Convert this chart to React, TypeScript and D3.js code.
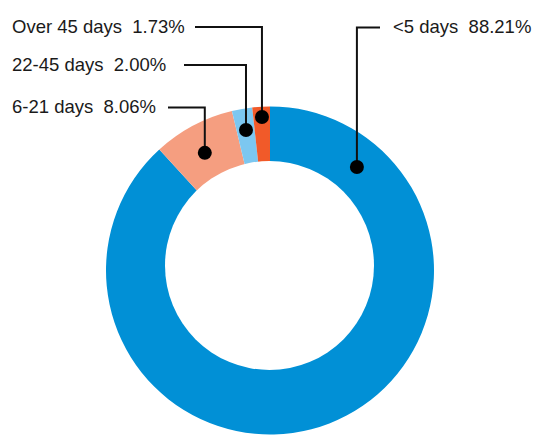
import React from 'react';
import * as d3 from 'd3';

// Distribution of items by age bucket
const categories = ['<5 days', '6-21 days', '22-45 days', 'Over 45 days'];
const shares = [88.21, 8.06, 2.0, 1.73];
const sliceColors = ['#0190d6', '#f59e80', '#7cc7f0', '#f15a29'];

// Callout geometry: dot angle (degrees, clockwise from 12 o'clock) and radius,
// elbow height of the leader, where the horizontal leader stops, and label anchor.
const calloutAngles = [40, 331, 350.3, 357];
const calloutRadii = [135.2, 134.5, 142.5, 153.7];
const leaderY = [27.5, 107.5, 65, 27];
const leaderEndX = [380, 168, 184, 195];
const labelX = [393, 12, 12, 12];

const W = 535;
const H = 435;
const cx = 270;
const cy = 270.5;
const outerR = 164;
const holeR = 104.5;

export default function App() {
  const pie = d3
    .pie<number>()
    .sort(null)
    .value((d) => d);
  const arcs = pie(shares);
  const arc = d3
    .arc<d3.PieArcDatum<number>>()
    .innerRadius(0)
    .outerRadius(outerR);

  const fmt = d3.format('.2f');

  return (
    <svg
      width={W}
      height={H}
      style={{ position: 'absolute', left: 0, top: 0, background: '#fff' }}
      fontFamily="'Liberation Sans', Arial, Helvetica, sans-serif"
    >
      <g transform={`translate(${cx},${cy})`}>
        {arcs.map((a, i) => (
          <path key={categories[i]} d={arc(a) || ''} fill={sliceColors[i]} />
        ))}
      </g>
      {/* centre hole */}
      <circle cx={cx - 0.5} cy={cy - 5} r={holeR} fill="#fff" />

      {categories.map((c, i) => {
        const [dx, dy] = d3.pointRadial((calloutAngles[i] * Math.PI) / 180, calloutRadii[i]);
        const px = cx + dx;
        const py = cy + dy;
        const ly = leaderY[i];
        return (
          <g key={c}>
            <path
              d={`M${leaderEndX[i]},${ly}H${px}V${py}`}
              fill="none"
              stroke="#111"
              strokeWidth={2}
            />
            <circle cx={px} cy={py} r={7} fill="#000" />
            <text
              x={labelX[i]}
              y={ly + 5.5}
              fontSize={18.5}
              fill="#1a1a1a"
            >
              {`${c}\u00a0\u00a0${fmt(shares[i])}%`}
            </text>
          </g>
        );
      })}
    </svg>
  );
}
